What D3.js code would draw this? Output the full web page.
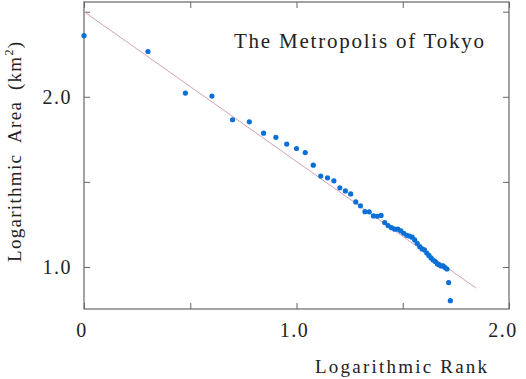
<!DOCTYPE html>
<html>
<head>
<meta charset="utf-8">
<script src="https://cdn.jsdelivr.net/npm/d3@7"></script>
<style>
  body { margin: 0; background: #fff; }
  text { font-family: "Liberation Serif", "DejaVu Serif", serif; fill: #222; }
  .axis path { display: none; }
  .axis line { stroke: #666; }
</style>
</head>
<body>
<div id="chart"></div>
<script>
// log10 of rank
const logRank = [0, 0.301, 0.477, 0.602, 0.699, 0.778, 0.845, 0.903, 0.954, 1.0,
  1.041, 1.079, 1.114, 1.146, 1.176, 1.204, 1.230, 1.255, 1.279, 1.301,
  1.322, 1.342, 1.362, 1.380, 1.398, 1.415, 1.431, 1.447, 1.462, 1.477,
  1.491, 1.505, 1.519, 1.531, 1.544, 1.556, 1.568, 1.580, 1.591, 1.602,
  1.613, 1.623, 1.633, 1.643, 1.653, 1.663, 1.672, 1.681, 1.690, 1.699,
  1.708, 1.716, 1.724];
// log10 of area (km2)
const logArea = [2.359, 2.266, 2.022, 2.004, 1.865, 1.853, 1.786, 1.762, 1.722, 1.696,
  1.672, 1.598, 1.534, 1.524, 1.506, 1.465, 1.447, 1.429, 1.382, 1.359,
  1.325, 1.324, 1.300, 1.298, 1.303, 1.261, 1.243, 1.231, 1.222, 1.222,
  1.212, 1.198, 1.186, 1.182, 1.175, 1.159, 1.139, 1.119, 1.106, 1.100,
  1.082, 1.068, 1.053, 1.041, 1.032, 1.018, 1.012, 1.006, 1.006, 0.997,
  0.988, 0.908, 0.802];
// fitted line end points [logRank, logArea]
const fitLine = [[0, 2.50], [1.845, 0.876]];
const xTicks = [0, 0.5, 1.0, 1.5, 2.0];
const yTicks = [1.0, 1.5, 2.0, 2.5];
const xLabels = [0, 1.0, 2.0];
const yLabels = [1.0, 2.0];

const width = 526, height = 379;
const margin = { top: 2, right: 17, bottom: 70, left: 84 };

const x = d3.scaleLinear().domain([0, 2]).range([margin.left, width - margin.right]);
const y = d3.scaleLinear().domain([0.753, 2.557]).range([height - margin.bottom, margin.top]);

const svg = d3.select("#chart")
  .append("svg")
  .attr("width", width)
  .attr("height", height);

const fmt = d => d === 0 ? "0" : d3.format(".1f")(d);

// frame
svg.append("rect")
  .attr("x", x(0)).attr("y", y(2.557))
  .attr("width", x(2) - x(0)).attr("height", y(0.753) - y(2.557))
  .attr("fill", "none").attr("stroke", "#666").attr("stroke-width", 1.2);

// inward ticks on all four sides
svg.append("g").attr("class", "axis")
  .attr("transform", `translate(0,${y(0.753)})`)
  .call(d3.axisBottom(x).tickValues(xTicks).tickSize(-6).tickFormat(""));
svg.append("g").attr("class", "axis")
  .attr("transform", `translate(0,${y(2.557)})`)
  .call(d3.axisTop(x).tickValues(xTicks).tickSize(-6).tickFormat(""));
svg.append("g").attr("class", "axis")
  .attr("transform", `translate(${x(0)},0)`)
  .call(d3.axisLeft(y).tickValues(yTicks).tickSize(-6).tickFormat(""));
svg.append("g").attr("class", "axis")
  .attr("transform", `translate(${x(2)},0)`)
  .call(d3.axisRight(y).tickValues(yTicks).tickSize(-6).tickFormat(""));

// tick labels
svg.append("g")
  .selectAll("text")
  .data(xLabels)
  .enter()
  .append("text")
    .attr("x", d => x(d) - (d === 2 ? 6 : 2))
    .attr("y", 337)
    .attr("text-anchor", "middle")
    .attr("font-size", 20)
    .attr("letter-spacing", 1.5)
    .text(fmt);

svg.append("g")
  .selectAll("text")
  .data(yLabels)
  .enter()
  .append("text")
    .attr("x", 72)
    .attr("y", d => y(d) + 7)
    .attr("text-anchor", "end")
    .attr("font-size", 20)
    .attr("letter-spacing", 1.5)
    .text(fmt);

// fitted line
svg.append("line")
  .attr("x1", x(fitLine[0][0])).attr("y1", y(fitLine[0][1]))
  .attr("x2", x(fitLine[1][0])).attr("y2", y(fitLine[1][1]))
  .attr("stroke", "#d3a3b6").attr("stroke-width", 1);

// points
svg.append("g")
  .selectAll("circle")
  .data(logRank)
  .enter()
  .append("circle")
    .attr("cx", d => x(d))
    .attr("cy", (d, i) => y(logArea[i]))
    .attr("r", 2.6)
    .attr("fill", "#0b6fd8");

// title inside plot
svg.append("text")
  .attr("x", 234).attr("y", 48)
  .attr("font-size", 21)
  .attr("textLength", 250)
  .attr("lengthAdjust", "spacing")
  .text("The Metropolis of Tokyo");

// axis titles
svg.append("text")
  .attr("x", 315).attr("y", 373)
  .attr("font-size", 19)
  .attr("textLength", 172)
  .attr("lengthAdjust", "spacing")
  .text("Logarithmic Rank");

const yt = svg.append("text")
  .attr("transform", "translate(21,262) rotate(-90)")
  .attr("font-size", 19)
  .attr("letter-spacing", 1.3);
yt.append("tspan").text("Logarithmic\u2002Area\u2002(km");
yt.append("tspan").attr("font-size", 12).attr("dy", -8).text("2");
yt.append("tspan").attr("dy", 8).text(")");
</script>
</body>
</html>
